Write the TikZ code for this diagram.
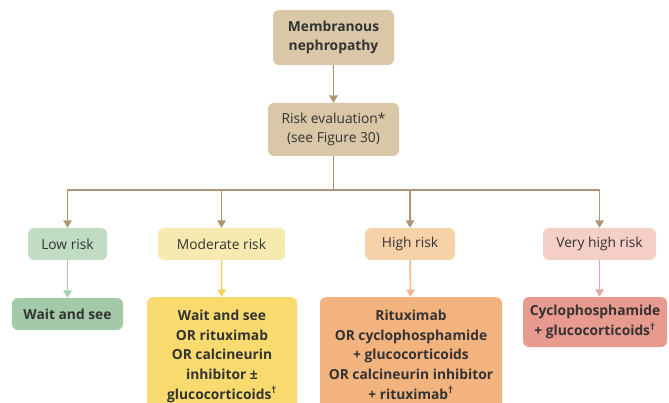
\documentclass[tikz,border=0pt]{standalone}
\usepackage{fontspec}
\setmainfont{Open Sans}
\usetikzlibrary{arrows.meta}
\definecolor{tanbox}{HTML}{D9C7A7}
\definecolor{tanline}{HTML}{AD9474}
\definecolor{lowbox}{HTML}{C0DCC3}
\definecolor{lowtreat}{HTML}{A3C9A9}
\definecolor{lowline}{HTML}{A8CFAE}
\definecolor{modbox}{HTML}{F6EAB0}
\definecolor{modtreat}{HTML}{F8DA6E}
\definecolor{modline}{HTML}{F3D45C}
\definecolor{highbox}{HTML}{F7D1A8}
\definecolor{hightreat}{HTML}{F3B37E}
\definecolor{highline}{HTML}{F2B98E}
\definecolor{vhbox}{HTML}{F5CEC6}
\definecolor{vhtreat}{HTML}{E99A8E}
\definecolor{vhline}{HTML}{E6A99E}
\definecolor{txt}{HTML}{333333}
\tikzset{
  box/.style={rounded corners=6pt, inner sep=0pt, align=center, text=txt,
    font=\fontsize{13.8}{19.6}\selectfont},
  boldbox/.style={box, font=\fontsize{13.8}{19.6}\selectfont\bfseries},
  tallbox/.style={boldbox, anchor=north, inner ysep=13pt, inner xsep=0pt},
  arr/.style={line width=1.6pt, -{Triangle[width=8.5pt,length=7.5pt]}},
}
\begin{document}
\begin{tikzpicture}[x=1pt,y=-1pt]
\useasboundingbox (0,0) rectangle (669,403);
\node[boldbox, fill=tanbox, minimum width=121pt, minimum height=55pt] (mem) at (333.5,37.5) {Membranous\\nephropathy};
\node[box, fill=tanbox, minimum width=131pt, minimum height=53pt] (risk) at (333.5,129.5) {Risk evaluation*\\(see Figure 30)};
\node[box, fill=lowbox, minimum width=79pt, minimum height=32pt] (low) at (67.5,244) {Low risk};
\node[box, fill=modbox, minimum width=127pt, minimum height=32pt] (mod) at (221.5,244) {Moderate risk};
\node[box, fill=highbox, minimum width=90pt, minimum height=32pt] (high) at (410,244) {High risk};
\node[box, fill=vhbox, minimum width=113pt, minimum height=32pt] (vh) at (599.5,244) {Very high risk};
\node[boldbox, fill=lowtreat, minimum width=111pt, minimum height=32pt] (wait) at (67.5,314) {Wait and see};
\node[tallbox, fill=modtreat, minimum width=150pt] (modt) at (222,297) {Wait and see\\OR rituximab\\OR calcineurin\\inhibitor ±\\glucocorticoids\textsuperscript{\textdagger}};
\node[tallbox, fill=hightreat, minimum width=182pt] (hight) at (411,297) {Rituximab\\OR cyclophosphamide\\+ glucocorticoids\\OR calcineurin inhibitor\\+ rituximab\textsuperscript{\textdagger}};
\node[boldbox, fill=vhtreat, minimum width=144pt, minimum height=50pt] (vht) at (595,322) {Cyclophosphamide\\+ glucocorticoids\textsuperscript{\textdagger}};
\coordinate (j) at (333.5,190);
\draw[arr, tanline] (mem) -- (risk);
\draw[line width=1.6pt, tanline] (risk.south) -- (j);
\draw[arr, tanline] (j) -| (low.north);
\draw[arr, tanline] (j) -| (mod.north);
\draw[arr, tanline] (j) -| (high.north);
\draw[arr, tanline] (j) -| (vh.north);
\draw[arr, lowline] (low) -- (wait);
\draw[arr, modline] (mod) -- (modt);
\draw[arr, highline] (high) -- (hight);
\draw[arr, vhline] (vh) -- (vh |- vht.north);
\end{tikzpicture}
\end{document}
